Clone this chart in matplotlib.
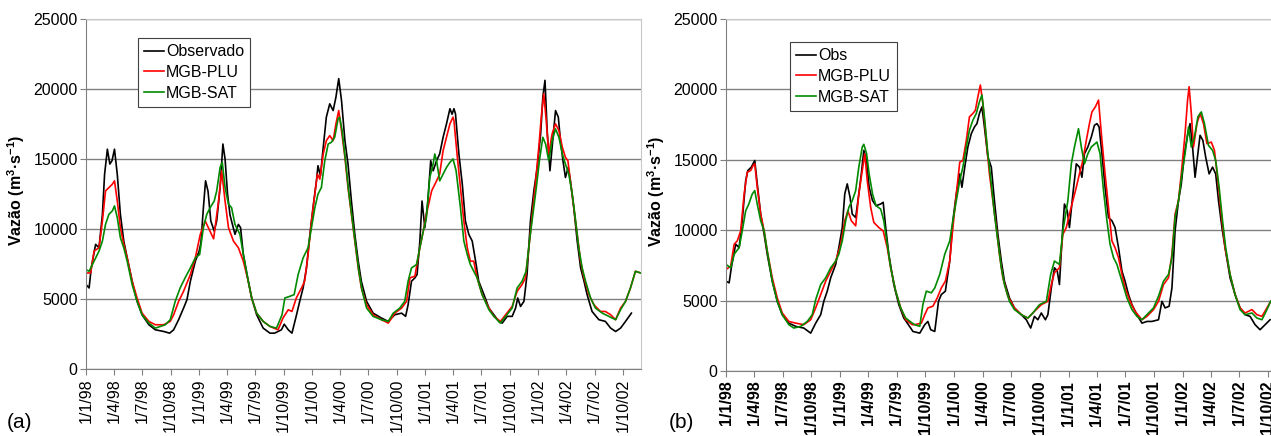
"""
Hidrogramas observados vs. simulados (MGB-PLU / MGB-SAT), 1998-2002.
Dois painéis (a) e (b). Saída: out.png
"""

import matplotlib
matplotlib.use("Agg")
import matplotlib.pyplot as plt
import numpy as np
import pandas as pd

OUT = "out.png"
BASE = np.datetime64("1998-01-01")

# ---- painel (a): dias desde 1/1/98 e vazões ----
obs_a_dia = [0, 10, 17, 31, 42, 53, 60, 69, 77, 84, 92, 101, 111, 122, 133, 149, 165, 181, 203, 224,
             251, 270, 283, 299, 315, 326, 337, 353, 365, 371, 379, 386, 394, 403, 414, 422, 433, 442,
             449, 457, 465, 481, 492, 499, 508, 524, 535, 551, 572, 594, 609, 631, 640, 653, 665, 679,
             690, 701, 712, 723, 733, 744, 749, 757, 766, 776, 787, 798, 807, 816, 825, 836, 846, 857,
             868, 879, 889, 906, 927, 954, 976, 997, 1019, 1032, 1040, 1051, 1062, 1069, 1078, 1085,
             1094, 1103, 1113, 1121, 1132, 1142, 1153, 1164, 1175, 1182, 1188, 1193, 1204, 1215, 1225,
             1236, 1247, 1258, 1268, 1285, 1301, 1317, 1333, 1344, 1360, 1376, 1387, 1394, 1403, 1414,
             1424, 1435, 1446, 1457, 1468, 1475, 1482, 1489, 1498, 1505, 1516, 1525, 1532, 1540, 1548,
             1557, 1564, 1575, 1586, 1597, 1608, 1618, 1634, 1656, 1677, 1694, 1710, 1726, 1742, 1761]
obs_a = [6030, 5790, 7220, 8900, 8660, 11050, 13900, 15700, 14640, 14880, 15700, 13900, 11050, 9140,
         7940, 6270, 4830, 3875, 3160, 2800, 2680, 2560, 2800, 3520, 4350, 4950, 6270, 7700, 8400, 9000,
         11500, 13440, 12700, 10570, 9850, 10570, 12960, 16070, 15000, 12500, 11000, 9620, 10330, 10100,
         8180, 6270, 5070, 3875, 2920, 2560, 2560, 2800, 3200, 2800, 2560, 3800, 4830, 5790, 7220, 9620,
         11530, 13440, 14520, 13800, 15840, 17990, 18940, 18460, 19420, 20740, 19180, 16310, 14640,
         12000, 9620, 7700, 6270, 4830, 3990, 3640, 3400, 3875, 3990, 3760, 4590, 6270, 6510, 6750, 9140,
         12000, 10100, 11770, 14880, 14160, 14880, 15360, 16550, 17510, 18590, 18200, 18590, 18230,
         15360, 13200, 10570, 9620, 9140, 7700, 6270, 5310, 4350, 3875, 3400, 3280, 3760, 3760, 4350,
         5070, 4470, 4830, 6750, 10570, 12720, 14400, 16790, 19420, 20620, 17030, 14160, 15840, 18460,
         17990, 16310, 14880, 13680, 14400, 13440, 11530, 9140, 7220, 6270, 5310, 4110, 3520, 3400,
         2920, 2680, 2920, 3400, 3990]

plu_a_dia = [0, 15, 26, 42, 53, 63, 74, 85, 92, 101, 111, 122, 133, 149, 165, 181, 203, 224, 251, 272,
             283, 299, 315, 337, 353, 369, 385, 395, 412, 428, 438, 449, 460, 476, 492, 508, 524, 535,
             551, 572, 594, 620, 636, 653, 665, 679, 696, 706, 717, 728, 739, 747, 755, 766, 776, 787,
             798, 807, 816, 825, 836, 846, 857, 868, 879, 889, 906, 927, 954, 976, 997, 1019, 1035, 1046,
             1062, 1078, 1089, 1099, 1116, 1132, 1142, 1153, 1164, 1175, 1185, 1188, 1198, 1209, 1220,
             1231, 1241, 1252, 1263, 1279, 1301, 1317, 1338, 1355, 1376, 1392, 1408, 1419, 1430, 1441,
             1451, 1462, 1471, 1478, 1486, 1494, 1505, 1516, 1527, 1538, 1548, 1556, 1564, 1575, 1586,
             1597, 1608, 1624, 1640, 1661, 1677, 1694, 1710, 1726, 1742, 1758, 1774, 1791]
plu_a = [6860, 6860, 8420, 8660, 10570, 12720, 12960, 13200, 13440, 12000, 10100, 8900, 7940, 6270,
         5070, 3990, 3400, 3160, 3160, 3400, 3875, 4830, 5550, 6750, 7940, 9620, 10570, 10100, 9300,
         12000, 14160, 12000, 10100, 9140, 8660, 7700, 6270, 5070, 3990, 3400, 3040, 2800, 3640, 4230,
         4110, 5070, 5790, 6270, 8180, 10570, 12490, 13920, 13560, 15360, 16310, 16670, 16310, 17510,
         18460, 17030, 15120, 12960, 11050, 9140, 7220, 5790, 4590, 3875, 3520, 3280, 3990, 4350, 4830,
         6510, 6630, 8660, 9850, 11050, 12720, 13440, 13920, 15600, 16550, 17510, 17990, 17750, 15360,
         12960, 10570, 8660, 7700, 7700, 6510, 5310, 4350, 3760, 3400, 3875, 4470, 5550, 6030, 6510,
         8660, 11050, 13200, 15840, 18230, 19660, 17750, 15360, 16790, 17510, 17030, 15840, 15120,
         14880, 13440, 11530, 9620, 7700, 6510, 5310, 4590, 4110, 4110, 3875, 3520, 4350, 4830, 5790,
         6980, 6860]

sat_a_dia = [0, 10, 26, 42, 53, 63, 74, 85, 92, 101, 111, 122, 133, 149, 165, 181, 203, 224, 240, 256,
             272, 288, 304, 320, 337, 353, 367, 379, 390, 401, 414, 422, 433, 440, 449, 460, 470, 481,
             497, 508, 524, 535, 551, 572, 594, 615, 633, 642, 658, 672, 685, 701, 717, 728, 739, 749,
             760, 771, 782, 792, 803, 814, 819, 827, 838, 848, 859, 870, 881, 892, 906, 927, 954, 976,
             992, 1013, 1029, 1040, 1051, 1067, 1078, 1089, 1099, 1110, 1121, 1126, 1132, 1142, 1153,
             1164, 1175, 1185, 1195, 1209, 1220, 1231, 1241, 1252, 1263, 1279, 1301, 1317, 1338, 1355,
             1376, 1392, 1408, 1421, 1432, 1443, 1454, 1464, 1475, 1484, 1494, 1505, 1516, 1527, 1538,
             1548, 1559, 1570, 1581, 1591, 1602, 1613, 1629, 1645, 1667, 1688, 1710, 1726, 1742, 1758,
             1774, 1791]
sat_a = [7100, 6980, 7700, 8420, 9140, 10330, 11050, 11290, 11650, 10810, 9380, 8660, 7700, 6030, 4830,
         3875, 3280, 2920, 3040, 3160, 3520, 4830, 5790, 6510, 7220, 7940, 8180, 10100, 11050, 11530,
         12000, 12720, 14400, 14760, 12960, 11770, 11530, 10330, 9620, 8180, 6270, 5070, 3990, 3400,
         3040, 2920, 3875, 5070, 5190, 5310, 6750, 7940, 8660, 10100, 11530, 12490, 12960, 14880, 16070,
         16190, 16550, 17870, 17990, 17030, 14880, 12720, 10810, 8900, 6980, 5550, 4350, 3760, 3520,
         3400, 3990, 4350, 4830, 6270, 7220, 7460, 8660, 9850, 10810, 13680, 14640, 15360, 14880, 13440,
         13920, 14400, 14760, 15000, 14160, 11530, 9140, 8180, 7460, 6980, 6510, 5310, 4230, 3760, 3280,
         3760, 4350, 5790, 6270, 6980, 9140, 11050, 12960, 14880, 16550, 16070, 14880, 16310, 17150,
         16550, 15360, 14640, 13920, 12490, 10570, 8660, 7220, 6270, 5070, 4350, 3990, 3760, 3520, 4230,
         4830, 5790, 6980, 6860]

# ---- painel (b) ----
obs_b_dia = [0, 10, 17, 31, 42, 52, 63, 70, 81, 92, 100, 111, 122, 132, 148, 164, 180, 201, 223, 249,
             271, 287, 303, 313, 324, 335, 351, 361, 372, 380, 388, 397, 404, 415, 425, 433, 441, 450,
             458, 469, 480, 495, 503, 511, 521, 537, 553, 569, 591, 598, 620, 636, 646, 655, 668, 680,
             689, 702, 716, 726, 737, 748, 755, 764, 774, 785, 795, 803, 811, 819, 827, 838, 849, 859,
             870, 881, 891, 907, 923, 945, 961, 975, 987, 998, 1009, 1022, 1030, 1041, 1051, 1060, 1067,
             1075, 1083, 1092, 1099, 1110, 1121, 1131, 1139, 1147, 1158, 1169, 1179, 1187, 1194, 1203,
             1213, 1224, 1235, 1245, 1256, 1267, 1277, 1288, 1299, 1315, 1331, 1347, 1363, 1384, 1395,
             1405, 1418, 1427, 1437, 1448, 1457, 1467, 1478, 1485, 1493, 1501, 1510, 1517, 1526, 1535,
             1546, 1557, 1567, 1576, 1587, 1597, 1613, 1629, 1645, 1661, 1677, 1693, 1709, 1725, 1741]
obs_b = [6380, 6260, 7330, 9000, 8760, 10670, 13520, 14240, 14480, 14950, 13290, 11140, 9710, 8290,
         6380, 4950, 4000, 3400, 3170, 3050, 2690, 3400, 4000, 4950, 5670, 6620, 7570, 8760, 10190,
         12570, 13290, 12330, 11140, 10900, 12570, 14000, 15670, 14950, 13050, 12100, 11740, 11860,
         11980, 10190, 8290, 6140, 4710, 3760, 3050, 2810, 2690, 3290, 3520, 2930, 2810, 4950, 5430,
         5670, 7810, 10670, 12570, 14000, 13050, 14480, 15910, 16860, 17330, 17570, 18290, 18760, 17330,
         15190, 14480, 12100, 9710, 7810, 6380, 5190, 4480, 4000, 3640, 3050, 3880, 3640, 4120, 3640,
         4000, 5900, 7330, 7100, 6140, 9240, 11860, 11380, 10190, 12570, 14710, 14480, 13760, 15430,
         15910, 16620, 17450, 17570, 17330, 15430, 13050, 10900, 10670, 10190, 8760, 7100, 6380, 5430,
         4710, 4000, 3400, 3520, 3520, 3640, 4950, 4480, 4600, 5900, 9950, 12100, 13290, 15430, 16860,
         17570, 15910, 13760, 15430, 16740, 16380, 15190, 14000, 14480, 14000, 12100, 10190, 8760, 6620,
         5430, 4480, 4000, 3880, 3290, 2930, 3290, 3640]

plu_b_dia = [0, 15, 26, 36, 47, 58, 68, 79, 87, 92, 100, 111, 122, 132, 148, 164, 180, 201, 223, 249,
             271, 287, 303, 319, 335, 351, 367, 380, 390, 401, 415, 425, 436, 444, 452, 463, 473, 489,
             503, 516, 527, 543, 559, 575, 596, 604, 625, 636, 646, 662, 676, 689, 702, 716, 726, 737,
             748, 758, 769, 779, 790, 798, 806, 814, 822, 833, 843, 854, 865, 875, 886, 902, 923, 945,
             966, 987, 1009, 1030, 1041, 1051, 1067, 1078, 1089, 1099, 1110, 1121, 1131, 1142, 1153,
             1163, 1171, 1182, 1192, 1203, 1213, 1224, 1235, 1245, 1256, 1267, 1277, 1293, 1309, 1331,
             1347, 1368, 1384, 1400, 1416, 1427, 1437, 1448, 1459, 1469, 1477, 1482, 1489, 1496, 1507,
             1517, 1528, 1539, 1553, 1563, 1574, 1587, 1597, 1613, 1629, 1645, 1661, 1683, 1699, 1715,
             1731, 1743]
plu_b = [7210, 7450, 9000, 9240, 9950, 12570, 14120, 14240, 14600, 14710, 13050, 11140, 9950, 8520,
         6620, 5190, 4120, 3520, 3400, 3290, 3640, 4480, 5430, 6380, 7100, 7810, 9000, 10670, 11380,
         10670, 10310, 12570, 14240, 15430, 13520, 11620, 10550, 10190, 9950, 8760, 7330, 5670, 4480,
         3640, 3290, 3290, 3400, 4000, 4480, 4600, 5190, 5900, 6380, 7810, 10190, 12570, 14830, 14950,
         16380, 18050, 18290, 18520, 19480, 20310, 19000, 16380, 14000, 12100, 10190, 8290, 6620, 5310,
         4480, 4000, 3760, 4240, 4710, 4950, 6140, 6980, 7330, 9710, 10190, 11140, 12100, 13050, 14000,
         14950, 16380, 17570, 18400, 18760, 19240, 16380, 14000, 11620, 9240, 8760, 8050, 6860, 5900,
         4950, 4240, 3640, 3880, 4360, 4950, 6140, 6620, 8290, 11140, 12100, 14480, 16860, 19240, 20190,
         18290, 15910, 17570, 18290, 17570, 16140, 16260, 15670, 13520, 10670, 8760, 6860, 5430, 4480,
         4120, 4360, 4000, 3880, 4480, 4950]

sat_b_dia = [0, 15, 26, 42, 52, 63, 73, 84, 92, 100, 111, 122, 132, 148, 164, 180, 201, 217, 239, 260,
             276, 287, 303, 319, 335, 351, 361, 372, 383, 393, 404, 415, 425, 436, 441, 450, 458, 469,
             480, 495, 505, 516, 527, 543, 559, 575, 596, 604, 620, 630, 641, 657, 668, 684, 700, 716,
             726, 737, 748, 758, 769, 779, 790, 801, 811, 819, 827, 838, 849, 859, 870, 881, 891, 907,
             923, 945, 966, 982, 1003, 1025, 1039, 1051, 1067, 1078, 1094, 1105, 1115, 1128, 1137, 1147,
             1158, 1169, 1187, 1197, 1208, 1219, 1229, 1240, 1251, 1267, 1283, 1299, 1315, 1331, 1347,
             1368, 1384, 1400, 1416, 1427, 1437, 1448, 1459, 1469, 1480, 1489, 1499, 1510, 1521, 1531,
             1544, 1557, 1567, 1578, 1589, 1599, 1613, 1629, 1645, 1661, 1683, 1699, 1715, 1731, 1743]
sat_b = [7570, 7330, 8290, 8760, 9950, 11380, 11860, 12570, 12810, 11860, 10670, 9950, 8520, 6380,
         4950, 4000, 3290, 3050, 3170, 3520, 4000, 5070, 6140, 6620, 7330, 7810, 8290, 9240, 10670,
         11620, 12100, 12810, 14480, 15910, 16100, 15430, 14000, 12570, 11740, 11500, 10670, 9000, 7330,
         5670, 4480, 3760, 3400, 3290, 3170, 4710, 5670, 5550, 5900, 6860, 8290, 9240, 10670, 12100,
         13520, 14480, 15910, 17100, 17810, 18290, 19120, 19600, 18050, 15430, 13290, 11140, 9240, 7330,
         6140, 4950, 4360, 4000, 3760, 4120, 4710, 4950, 6860, 7810, 7570, 9950, 12100, 14710, 15910,
         17210, 15910, 14710, 15430, 15910, 16260, 15430, 12810, 10670, 9000, 8050, 7570, 6380, 5190,
         4360, 3880, 3640, 4000, 4480, 5310, 6380, 6860, 8050, 10900, 12100, 14000, 15430, 17330, 15910,
         16620, 18050, 18400, 17570, 16020, 15670, 14950, 13050, 10670, 8760, 6860, 5430, 4360, 4000,
         4120, 3760, 3640, 4360, 4950]

TICKS = pd.date_range("1998-01-01", "2002-10-01", freq="QS")
XEND = BASE + np.timedelta64(1792, "D")
CORES = ["black", "#ff0000", "#008a00"]
GRID = "#808080"
FS = 11.5


def _datas(dias):
    return BASE + np.array(dias).astype("timedelta64[D]")


def _panel(ax, series, nomes, bold_x, leg_xy):
    for (dias, vals), cor, nome in zip(series, CORES, nomes):
        ax.plot(_datas(dias), vals, color=cor, lw=1.2, label=nome)

    ax.set_xlim(BASE, XEND)
    ax.set_ylim(0, 25000)
    ax.set_yticks(range(0, 25001, 5000))
    ax.yaxis.grid(True, color=GRID, lw=1.0)
    ax.set_axisbelow(True)
    ax.set_xticks(TICKS)
    ax.set_xticklabels([f"{d.day}/{d.month}/{d.year % 100:02d}" for d in TICKS],
                       rotation=90, fontsize=FS, fontweight="bold" if bold_x else "normal")
    ax.tick_params(axis="y", labelsize=FS, length=4, color=GRID, pad=2)
    ax.tick_params(axis="x", length=4, color=GRID, pad=3)
    for s in ("left", "bottom"):
        ax.spines[s].set_color(GRID)
    for s in ("top", "right"):
        ax.spines[s].set_color("#c8c8c8")
    ax.set_ylabel("Vazão (m$^{3}$·s$^{-1}$)", fontsize=FS, fontweight="bold")
    ax.yaxis.set_label_coords(-0.106, 0.51)

    leg = ax.legend(loc="upper left", bbox_to_anchor=leg_xy, bbox_transform=ax.figure.transFigure,
                    borderaxespad=0, fontsize=FS, handlelength=1.2, handletextpad=0.15,
                    labelspacing=0.35, borderpad=0.4, fancybox=False, framealpha=1)
    leg.get_frame().set_edgecolor("#404040")
    leg.get_frame().set_linewidth(0.8)


def main():
    plt.rcParams["font.family"] = ["Liberation Sans", "DejaVu Sans"]
    plt.rcParams["mathtext.default"] = "regular"
    W, H = 1271, 436
    fig = plt.figure(figsize=(W / 100, H / 100), dpi=100)

    ax_a = fig.add_axes([86 / W, 67 / H, 555 / W, 350 / H])
    ax_b = fig.add_axes([726 / W, 65 / H, 560 / W, 352 / H])

    _panel(ax_a, [(obs_a_dia, obs_a), (plu_a_dia, plu_a), (sat_a_dia, sat_a)],
           ["Observado", "MGB-PLU", "MGB-SAT"], False, (138 / W, 1 - 38 / H))
    _panel(ax_b, [(obs_b_dia, obs_b), (plu_b_dia, plu_b), (sat_b_dia, sat_b)],
           ["Obs", "MGB-PLU", "MGB-SAT"], True, (790 / W, 1 - 42 / H))

    fig.text(7 / W, 8 / H, "(a)", fontsize=15, va="baseline")
    fig.text(669 / W, 8 / H, "(b)", fontsize=15, va="baseline")

    fig.savefig(OUT, dpi=100)


if __name__ == "__main__":
    main()
